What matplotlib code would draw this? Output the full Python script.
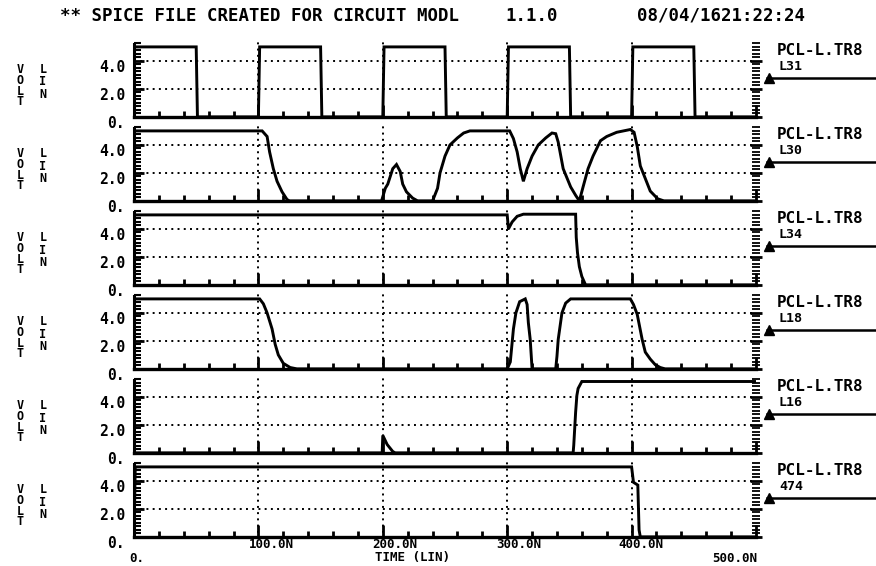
import numpy as np
import matplotlib
matplotlib.use("Agg")
import matplotlib.pyplot as plt
from matplotlib.ticker import MultipleLocator
from matplotlib.transforms import blended_transform_factory, offset_copy

# --- data (time in ns, volts) ---
t_l31 = [0, 0, 50, 51, 100, 101, 150, 151, 200, 201, 250, 251, 300, 301, 350, 351,
         400, 401, 450, 451, 500]
v_l31 = [0, 5.0, 5.0, 0, 0, 5.0, 5.0, 0, 0, 5.0, 5.0, 0, 0, 5.0, 5.0, 0,
         0, 5.0, 5.0, 0, 0]

t_l30 = [0, 103, 107, 109, 112, 115, 119, 123, 125, 199, 202, 204, 208, 211, 214, 216,
         219, 224, 228, 240, 244, 246, 250, 254, 260, 265, 270, 302, 305, 308, 310.5,
         313, 316, 320, 325, 331, 336, 339, 341, 345, 351, 355, 358, 361, 365, 369,
         375, 380, 388, 399, 402, 404.5, 407, 411, 415, 421, 426, 500]
v_l30 = [5.0, 5.0, 4.6, 3.5, 2.3, 1.4, 0.65, 0.1, 0, 0, 0.9, 1.2, 2.3, 2.6, 2.1, 1.2,
         0.65, 0.2, 0, 0, 0.9, 2.0, 3.2, 4.0, 4.5, 4.85, 5.0, 5.0, 4.45, 3.5, 2.3,
         1.4, 2.3, 3.2, 4.0, 4.5, 4.85, 4.8, 4.2, 2.3, 1.0, 0.4, 0, 1.0, 2.3, 3.2,
         4.3, 4.6, 4.9, 5.1, 4.9, 3.9, 2.5, 1.6, 0.7, 0.15, 0, 0]

t_l34 = [0, 300, 301, 304, 308, 313, 355, 355.5, 356.5, 358, 360, 363, 500]
v_l34 = [5.0, 5.0, 4.0, 4.5, 4.9, 5.05, 5.05, 3.4, 2.3, 1.3, 0.6, 0, 0]

t_l18 = [0, 101, 104, 107, 111, 113.5, 116, 120, 125.5, 131, 300, 302.5, 305, 307,
         310, 314.5, 316, 317, 318.5, 320, 339, 340, 341, 344, 347, 351, 399, 401.5,
         404.5, 408.5, 411, 415, 419, 423, 427, 500]
v_l18 = [5.0, 5.0, 4.65, 4.0, 2.85, 1.75, 1.0, 0.4, 0.1, 0, 0, 0.5, 2.85, 4.0,
         4.8, 5.0, 4.6, 3.3, 2.1, 0, 0, 0.9, 2.1, 4.0, 4.7, 5.0, 5.0, 4.6,
         3.9, 2.1, 1.2, 0.7, 0.3, 0.1, 0, 0]

t_l16 = [0, 199.5, 200, 203.5, 208, 210, 353, 353.5, 355, 356, 357, 360, 500]
v_l16 = [0, 0, 1.25, 0.6, 0.1, 0, 0, 0.55, 2.9, 4.1, 4.6, 5.1, 5.1]

t_474 = [0, 1, 400, 401.5, 405, 406, 407, 500]
v_474 = [0, 5.0, 5.0, 3.9, 3.7, 0.5, 0, 0]

traces = [(t_l31, v_l31), (t_l30, v_l30), (t_l34, v_l34),
          (t_l18, v_l18), (t_l16, v_l16), (t_474, v_474)]
node_names = ["L31", "L30", "L34", "L18", "L16", "474"]
trace_name = "PCL-L.TR8"

y_ticks = [0, 2, 4]
y_labels = ["0.", "2.0", "4.0"]
x_ticks = [0, 100, 200, 300, 400, 500]
x_labels = ["0.", "100.0N", "200.0N", "300.0N", "400.0N", "500.0N"]

FONT = "DejaVu Sans Mono"
W, H = 876, 566

fig = plt.figure(figsize=(W / 100, H / 100), dpi=100)
fig.patch.set_facecolor("white")

# title line
fig.text(60 / W, 1 - 16 / H, "** SPICE FILE CREATED FOR CIRCUIT MODL", family=FONT,
         weight="bold", fontsize=12.5, va="center", ha="left")
fig.text(505 / W, 1 - 16 / H, "1.1.0", family=FONT, weight="bold", fontsize=12.5,
         va="center", ha="left")
fig.text(637 / W, 1 - 16 / H, "08/04/1621:22:24", family=FONT, weight="bold",
         fontsize=12.5, va="center", ha="left")

grid_ls = (0, (1, 2.2))

for i, ((t, v), node) in enumerate(zip(traces, node_names)):
    y0 = 117 + 84 * i  # pixel row of 0 V
    ax = fig.add_axes([134 / W, 1 - (y0 + 2) / H, 622 / W, 77 / H])
    ax.set_xlim(0, 500)
    ax.set_ylim(-0.15, 5.35)
    ax.patch.set_alpha(0)

    ax.plot(t, v, color="k", lw=2.1, solid_joinstyle="miter", zorder=5)

    for s in ["top", "right"]:
        ax.spines[s].set_visible(False)
    ax.spines["left"].set_linewidth(2.2)
    ax.spines["left"].set_bounds(0, 5.2)
    ax.spines["bottom"].set_linewidth(2.4)
    ax.spines["bottom"].set_position(("data", 0))

    ax.set_yticks(y_ticks)
    ax.set_yticklabels([])
    ax.yaxis.set_minor_locator(MultipleLocator(0.25))
    ax.tick_params(axis="y", which="major", direction="in", length=7, width=2)
    ax.tick_params(axis="y", which="minor", direction="in", length=5, width=1.5)

    ax.set_xticks(x_ticks)
    ax.set_xticklabels([])
    ax.xaxis.set_minor_locator(MultipleLocator(20))
    ax.tick_params(axis="x", which="major", direction="in", length=9, width=2)
    ax.tick_params(axis="x", which="minor", direction="in", length=4, width=2)

    ax.grid(True, which="major", color="k", lw=1.4, ls=grid_ls)
    xg = ax.get_xgridlines()
    xg[0].set_visible(False)
    xg[-1].set_visible(False)
    ax.get_ygridlines()[0].set_visible(False)

    # right side dash ticks
    tw = ax.twinx()
    tw.set_ylim(ax.get_ylim())
    for s in tw.spines.values():
        s.set_visible(False)
    tw.set_yticks(y_ticks)
    tw.set_yticklabels([])
    tw.yaxis.set_minor_locator(MultipleLocator(0.25))
    tw.tick_params(axis="y", which="major", direction="inout", length=9, width=2)
    tw.tick_params(axis="y", which="minor", direction="inout", length=6, width=1.3)

    # left value labels
    bt = blended_transform_factory(ax.transAxes, ax.transData)
    for yv, lab in zip(y_ticks, y_labels):
        ax.text(0, yv, lab, transform=offset_copy(bt, fig, x=-9, y=-7, units="dots"),
                family=FONT, weight="bold", fontsize=10.5, ha="right", va="center")

    # VOLT / LIN axis words
    ft = blended_transform_factory(fig.transFigure, ax.transData)
    ax.text(20 / W, 3.85, "V\nO\nL\nT", transform=ft, family=FONT, weight="bold",
            fontsize=8.5, ha="center", va="top", linespacing=0.78)
    ax.text(43 / W, 3.85, "L\nI\nN", transform=ft, family=FONT, weight="bold",
            fontsize=8.5, ha="center", va="top", linespacing=0.95)

    # trace label with pointer line
    ax.text(777 / W, 4.75, trace_name, transform=ft, family=FONT, weight="bold",
            fontsize=11.5, ha="left", va="center")
    ax.text(779 / W, 3.6, node, transform=ft, family=FONT, weight="bold",
            fontsize=9.5, ha="left", va="center")
    ax.plot([767 / W, 1.0], [2.8, 2.8], transform=ft, color="k", lw=1.8,
            clip_on=False)
    ax.plot([769 / W], [2.8], transform=ft, marker="^", color="k", ms=7,
            clip_on=False)

# time axis labels on the last panel (two staggered rows)
bt = blended_transform_factory(ax.transData, fig.transFigure)
dxs = [-5, -10, -11, -11, -13, -44]
rows = [558, 545, 545, 545, 545, 558]
for xv, lab, dx, ry in zip(x_ticks, x_labels, dxs, rows):
    ax.text(xv, 1 - ry / H, lab, transform=offset_copy(bt, fig, x=dx, y=0, units="dots"),
            family=FONT, weight="bold", fontsize=9, ha="left", va="center")
fig.text(375 / W, 1 - 558 / H, "TIME (LIN)", family=FONT, weight="bold",
         fontsize=9, ha="left", va="center")

fig.savefig("out.png", dpi=100, facecolor="white")
